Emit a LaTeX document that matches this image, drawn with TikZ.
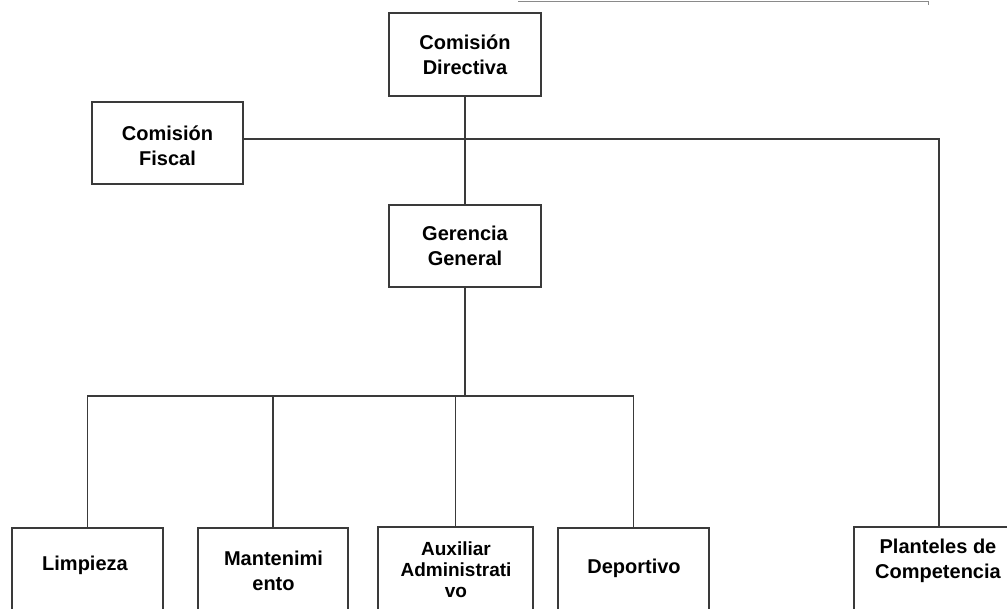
\documentclass[tikz,border=0pt]{standalone}
\usepackage{fontspec}
\setmainfont{Liberation Sans}
\usetikzlibrary{calc}
\definecolor{linec}{HTML}{3A3A3A}
\definecolor{topc}{HTML}{8A8A8A}
\begin{document}
\begin{tikzpicture}[x=1pt,y=-1pt,
  box/.style={draw=linec, line width=1.3pt, fill=white, inner sep=0pt, outer sep=0pt,
    anchor=north west, align=center, text=black,
    font=\bfseries\fontsize{20}{25}\selectfont},
  lbl/.style={align=center, inner sep=0pt, text=black,
    font=\bfseries\fontsize{20}{25}\selectfont},
  small/.style={font=\bfseries\fontsize{19}{21}\selectfont},
  conn/.style={draw=linec, line width=1.3pt}]
\clip (0,0) rectangle (1007,608);
\fill[white] (0,0) rectangle (1007,608);
% cut-off box edge at the top
\coordinate (tl) at (518,1);
\coordinate (tr) at (928,1);
\coordinate (tb) at (928,5);
\draw[draw=topc, line width=1pt] (tl) -- (tr) -- (tb);
% upper boxes
\node[box, minimum width=152pt, minimum height=83pt] (dir) at (389,13) {Comisión\\Directiva};
\node[box, minimum width=151pt, minimum height=82pt] (fis) at (92,102) {};
\node[lbl] (fisT) at (167.5,146) {Comisión\\Fiscal};
\node[box, minimum width=152pt, minimum height=82pt] (ger) at (389,205) {Gerencia\\General};
% lower boxes (cut off by the bottom edge)
\node[box, minimum width=151pt, minimum height=100pt] (limp) at (12,528) {};
\node[box, minimum width=150pt, minimum height=100pt] (mant) at (198,528) {};
\node[box, minimum width=155pt, minimum height=100pt] (aux) at (378,527) {};
\node[box, minimum width=151pt, minimum height=100pt] (dep) at (558,528) {};
\node[box, minimum width=170pt, minimum height=100pt] (plan) at (854,527) {};
\node[lbl] (limpT) at (85,565) {Limpieza};
\node[lbl] (mantT) at (273.5,571) {Mantenimi\\ento};
\node[lbl, small] (auxT) at (456,570) {Auxiliar\\Administrati\\vo};
\node[lbl] (depT) at (634,568) {Deportivo};
\node[lbl] (planT) at (938,561) {Planteles de\\Competencia};
% connectors
\draw[conn] (dir.south) -- (ger.north);
\draw[conn] ([yshift=4pt]fis.east) -| (plan.north);
\coordinate (bar) at ($(ger.south)+(0,109)$);
\draw[conn] (ger.south) -- (bar);
\draw[conn] (limp.north) |- (bar) -| (dep.north);
\draw[conn] (mant.north) -- (mant.north |- bar);
\draw[conn] (aux.north) -- (aux.north |- bar);
\end{tikzpicture}
\end{document}
